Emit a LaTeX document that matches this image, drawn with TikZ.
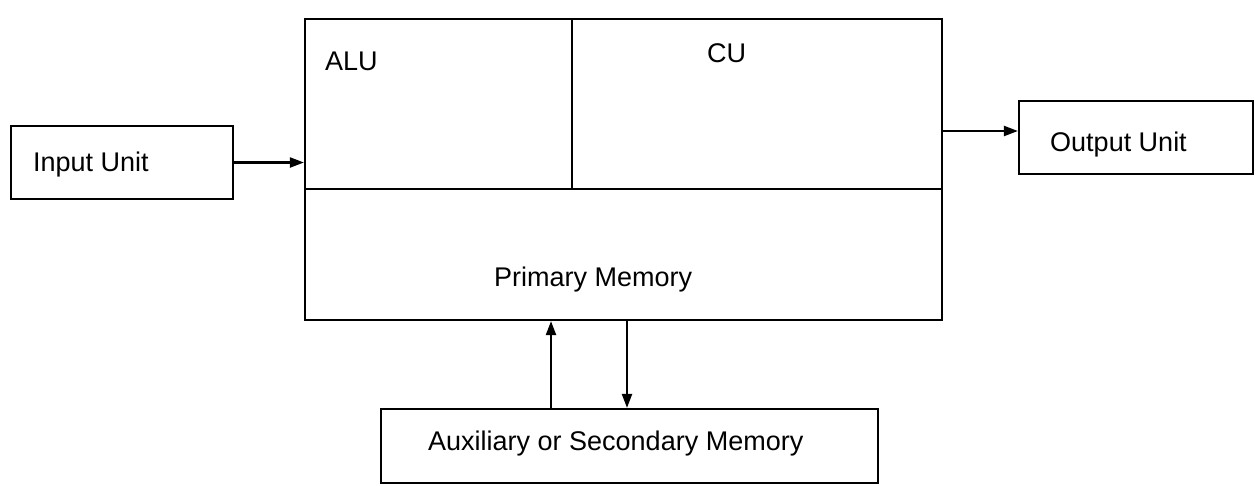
\documentclass[tikz,border=0pt]{standalone}
\usepackage{fontspec}
\setmainfont{Liberation Sans}
\usetikzlibrary{arrows.meta}
\tikzset{
  unitbox/.style={draw, line width=2.2pt, inner sep=0pt, fill=none},
  lbl/.style={inner sep=0pt, anchor=base west, font=\fontsize{27}{32}\selectfont},
  arr/.style={line width=2.2pt, -{Triangle[length=14pt,width=10pt]}},
  rule/.style={line width=2.2pt}
}
\begin{document}
\begin{tikzpicture}[x=1pt,y=-1pt]
\useasboundingbox (0,0) rectangle (1260,485);

% processor block: ALU and CU over primary memory
\node[unitbox, minimum width=637pt, minimum height=301pt] (cpu) at (623.5,169.5) {};
\coordinate (divL) at (305,189);
\coordinate (divR) at (942,189);
\coordinate (midT) at (572,19);
\coordinate (midB) at (572,189);
\draw[rule] (divL) -- (divR);
\draw[rule] (midT) -- (midB);
\node[lbl] (alu) at (325,70) {ALU};
\node[lbl] (cu) at (707,62) {CU};
\node[lbl] (pm) at (494,286) {Primary Memory};

% input and output units
\node[unitbox, minimum width=222pt, minimum height=73pt] (inbox) at (122,162.5) {};
\node[lbl] (intext) at (33,171) {Input Unit};
\node[unitbox, minimum width=234pt, minimum height=73pt] (outbox) at (1136,137.5) {};
\node[lbl] (outtext) at (1050,151) {Output Unit};

% secondary storage
\node[unitbox, minimum width=497pt, minimum height=74pt] (aux) at (629.5,446) {};
\node[lbl] (auxtext) at (428,450) {Auxiliary or Secondary Memory};

% data paths
\coordinate (outy) at (0,131);
\coordinate (upx) at (551,0);
\coordinate (downx) at (627,0);
\draw[arr] (inbox.east) -- (inbox.east -| cpu.west);
\draw[arr] (outy -| cpu.east) -- (outy -| outbox.west);
\draw[arr] (upx |- aux.north) -- (upx |- cpu.south);
\draw[arr] (downx |- cpu.south) -- (downx |- aux.north);
\end{tikzpicture}
\end{document}
